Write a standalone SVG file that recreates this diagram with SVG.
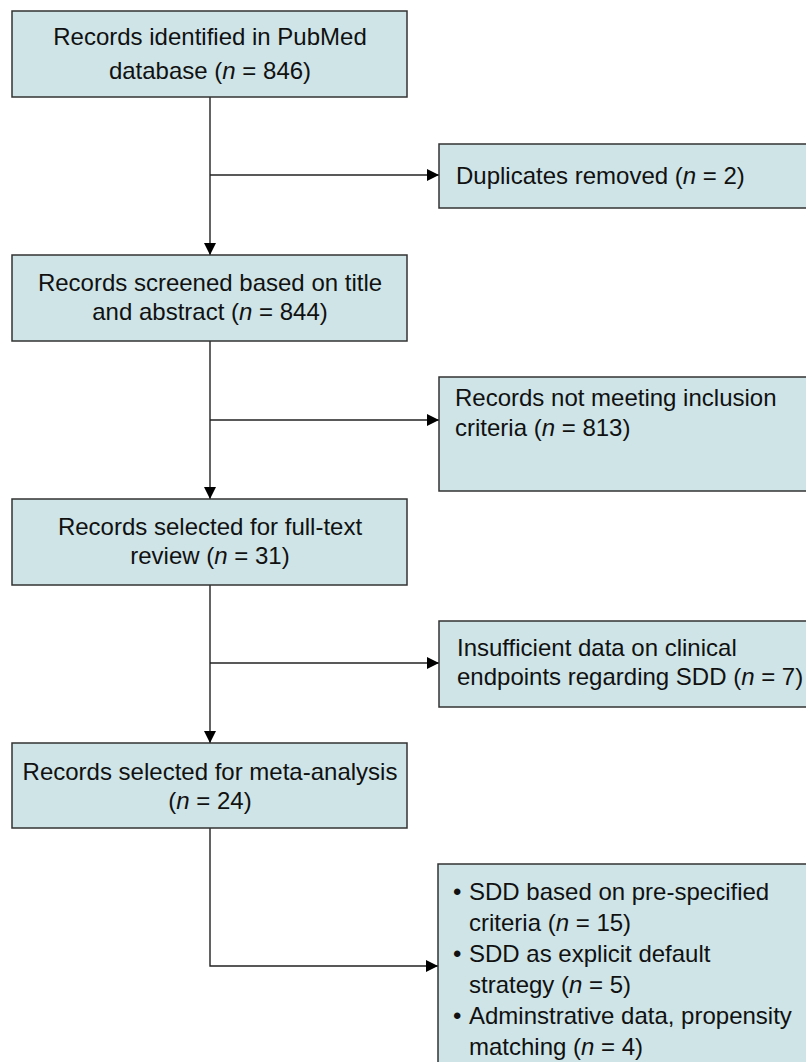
<svg xmlns="http://www.w3.org/2000/svg" width="806" height="1062" viewBox="0 0 806 1062">
<style>
.box{fill:#cee4e7;stroke:#333;stroke-width:1.5}
.t{font-family:"Liberation Sans",Arial,sans-serif;font-size:24px;fill:#111}
.c{text-anchor:middle}
.ln{fill:none;stroke:#222;stroke-width:1.4}
</style>
<defs>
<marker id="ah" viewBox="0 0 10 10" refX="10" refY="5" markerWidth="12" markerHeight="12" markerUnits="userSpaceOnUse" orient="auto">
<path d="M0,0L10,5L0,10z" fill="#000"/>
</marker>
</defs>
<g id="connectors">
<path class="ln" d="M210,97V255" marker-end="url(#ah)"/>
<path class="ln" d="M210,175H439" marker-end="url(#ah)"/>
<path class="ln" d="M210,341V499" marker-end="url(#ah)"/>
<path class="ln" d="M210,420H439" marker-end="url(#ah)"/>
<path class="ln" d="M210,585V743" marker-end="url(#ah)"/>
<path class="ln" d="M210,663H439" marker-end="url(#ah)"/>
<path class="ln" d="M210,828V966H438" marker-end="url(#ah)"/>
</g>
<g id="n1">
<rect class="box" x="12" y="11" width="395" height="86"/>
<text class="t c" x="210" y="45">Records identified in PubMed</text>
<text class="t c" x="210" y="79">database (<tspan font-style="italic">n</tspan> = 846)</text>
</g>
<g id="n2">
<rect class="box" x="12" y="255" width="395" height="86"/>
<text class="t c" x="210" y="291">Records screened based on title</text>
<text class="t c" x="210" y="320">and abstract (<tspan font-style="italic">n</tspan> = 844)</text>
</g>
<g id="n3">
<rect class="box" x="12" y="499" width="395" height="86"/>
<text class="t c" x="210" y="535">Records selected for full-text</text>
<text class="t c" x="210" y="564">review (<tspan font-style="italic">n</tspan> = 31)</text>
</g>
<g id="n4">
<rect class="box" x="12" y="743" width="395" height="85"/>
<text class="t c" x="210" y="780">Records selected for meta-analysis</text>
<text class="t c" x="210" y="809">(<tspan font-style="italic">n</tspan> = 24)</text>
</g>
<g id="e1">
<rect class="box" x="439" y="144" width="380" height="64"/>
<text class="t" x="456" y="184">Duplicates removed (<tspan font-style="italic">n</tspan> = 2)</text>
</g>
<g id="e2">
<rect class="box" x="439" y="377" width="380" height="114"/>
<text class="t" x="455" y="406">Records not meeting inclusion</text>
<text class="t" x="455" y="436">criteria (<tspan font-style="italic">n</tspan> = 813)</text>
</g>
<g id="e3">
<rect class="box" x="439" y="621" width="380" height="86"/>
<text class="t" x="457" y="656">Insufficient data on clinical</text>
<text class="t" x="457" y="685">endpoints regarding SDD (<tspan font-style="italic">n</tspan> = 7)</text>
</g>
<g id="e4">
<rect class="box" x="438" y="864" width="380" height="220"/>
<text class="t" x="453" y="900">•</text>
<text class="t" x="469" y="900">SDD based on pre-specified</text>
<text class="t" x="469" y="931">criteria (<tspan font-style="italic">n</tspan> = 15)</text>
<text class="t" x="453" y="962">•</text>
<text class="t" x="469" y="962">SDD as explicit default</text>
<text class="t" x="469" y="993">strategy (<tspan font-style="italic">n</tspan> = 5)</text>
<text class="t" x="453" y="1024">•</text>
<text class="t" x="469" y="1024">Adminstrative data, propensity</text>
<text class="t" x="469" y="1055">matching (<tspan font-style="italic">n</tspan> = 4)</text>
</g>
</svg>
